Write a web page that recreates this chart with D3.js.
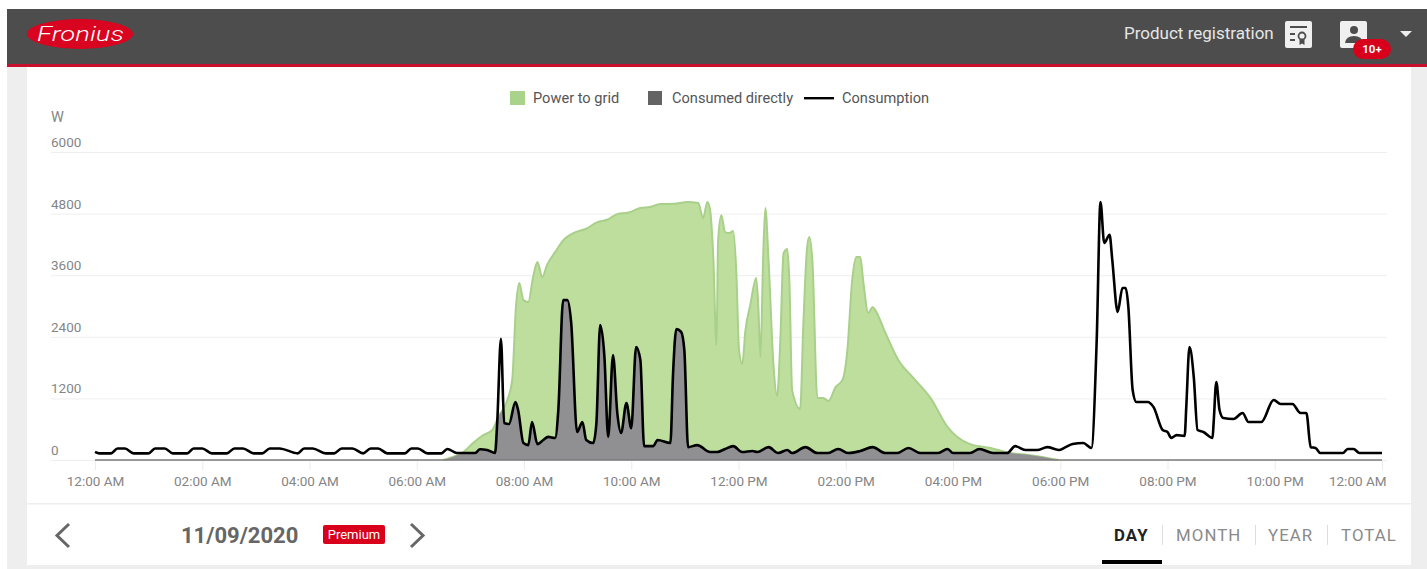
<!DOCTYPE html>
<html>
<head>
<meta charset="utf-8">
<title>Fronius day chart</title>
<script src="https://cdn.jsdelivr.net/npm/d3@7"></script>
<style>
  html, body { margin: 0; padding: 0; background: #fff; overflow: hidden; }
  svg { display: block; font-family: Roboto, sans-serif; }
  .axis path { display: none; }
  .axis text { fill: #858585; font-size: 13.5px; font-family: Roboto, sans-serif; }
  .grid line { stroke: #eeeeee; }
  .xaxis line { stroke: #ececec; }
</style>
</head>
<body>
<script>
// values, hours since midnight and watts
var productionHours = [6.49,6.72,6.87,7.05,7.24,7.41,7.52,7.69,7.78,7.85,7.91,7.99,8.08,8.17,8.25,8.34,8.43,8.58,8.75,8.92,9.15,9.37,9.55,9.74,9.95,10.17,10.35,10.54,10.8,11.04,11.25,11.34,11.42,11.47,11.53,11.59,11.62,11.68,11.75,11.83,11.90,11.96,12.01,12.07,12.13,12.22,12.33,12.37,12.41,12.46,12.50,12.56,12.65,12.72,12.78,12.84,12.91,12.95,13.0,13.15,13.21,13.28,13.32,13.38,13.47,13.58,13.68,13.81,13.94,14.03,14.12,14.20,14.27,14.33,14.42,14.50,14.55,14.74,14.98,15.26,15.58,15.90,16.08,16.32,16.70,17.07,17.44,17.97];
var productionWatts = [0,80,155,330,485,585,840,1170,1560,2980,3450,3115,3080,3565,3855,3565,3800,4050,4300,4420,4500,4635,4680,4790,4820,4910,4930,4985,4990,5025,5005,4715,5025,4870,3955,2240,4285,4770,4440,4420,4460,3645,2140,1870,2530,3020,3545,2980,2005,3955,4910,3895,1890,1245,2340,4030,4110,3450,1365,995,2670,4150,4345,3840,1210,1210,1150,1420,1560,2140,3505,3955,3955,3450,2865,2980,2920,2475,1950,1600,1210,640,450,310,235,135,95,0];

var consumptionHours = [0,0.08,0.3,0.42,0.56,0.72,1.0,1.12,1.3,1.45,1.72,1.84,2.0,2.18,2.46,2.6,2.76,2.96,3.12,3.26,3.44,3.78,3.9,4.06,4.3,4.46,4.6,4.8,5.0,5.14,5.28,5.45,5.78,5.9,6.02,6.2,6.46,6.57,6.75,7.09,7.18,7.31,7.46,7.50,7.57,7.63,7.72,7.84,7.89,7.99,8.08,8.15,8.25,8.36,8.45,8.58,8.64,8.73,8.81,8.88,8.99,9.09,9.16,9.29,9.35,9.42,9.50,9.57,9.66,9.74,9.81,9.91,10.0,10.09,10.17,10.24,10.41,10.49,10.73,10.78,10.84,10.93,10.99,11.06,11.23,11.47,11.60,11.75,11.90,12.07,12.26,12.35,12.56,12.74,12.91,13.0,13.25,13.47,13.66,13.86,14.05,14.27,14.50,14.74,14.96,15.17,15.39,15.71,15.90,16.0,16.32,16.49,16.75,17.01,17.16,17.35,17.57,17.76,17.97,18.10,18.23,18.43,18.58,18.68,18.75,18.82,18.92,18.97,19.07,19.16,19.22,19.27,19.35,19.42,19.63,19.74,19.91,20.0,20.07,20.17,20.32,20.35,20.41,20.49,20.56,20.67,20.84,20.86,20.91,20.97,21.04,21.23,21.40,21.51,21.75,21.98,22.11,22.33,22.48,22.59,22.67,22.76,22.85,23.27,23.36,23.47,23.58,24];
var consumptionWatts = [160,130,130,225,225,130,130,225,225,130,130,225,225,130,130,225,225,130,130,225,225,130,225,225,130,130,225,225,130,225,225,130,130,225,225,130,130,214,136,136,208,195,136,720,2360,720,700,1130,975,330,290,740,310,390,450,430,975,3115,3115,2670,545,740,390,330,720,2630,2005,450,2045,915,525,1110,620,2200,1950,270,270,390,330,1695,2550,2495,2140,250,290,155,155,215,270,155,175,155,250,135,195,135,250,135,135,215,135,175,250,135,135,235,135,135,215,135,135,215,135,135,270,195,195,250,195,250,310,330,235,2340,5025,4230,4385,3900,2885,3350,3350,2980,1365,1130,1130,1030,585,545,430,485,470,1030,2200,1615,585,545,430,720,1520,975,820,800,915,740,740,1170,1090,1090,915,915,250,235,135,135,215,215,135,135];

var yTicks = [0,1200,2400,3600,4800,6000];
var xTicks = [0,2,4,6,8,10,12,14,16,18,20,22,24];
var xTickLabels = ["12:00 AM","02:00 AM","04:00 AM","06:00 AM","08:00 AM","10:00 AM","12:00 PM","02:00 PM","04:00 PM","06:00 PM","08:00 PM","10:00 PM","12:00 AM"];
var legendNames = ["Power to grid","Consumed directly","Consumption"];
var tabNames = ["DAY","MONTH","YEAR","TOTAL"];

var production = productionHours.map((h, i) => ({h: h, w: productionWatts[i]}));
var consumption = consumptionHours.map((h, i) => ({h: h, w: consumptionWatts[i]}));

var svg = d3.select("body").append("svg").attr("width", 1427).attr("height", 569);

function rect(x, y, w, h, fill, r) {
  return svg.append("rect").attr("x", x).attr("y", y).attr("width", w).attr("height", h)
    .attr("fill", fill).attr("rx", r || 0);
}
function label(x, y, str, size, fill, weight) {
  return svg.append("text").attr("x", x).attr("y", y).text(str)
    .attr("font-size", size).attr("fill", fill).attr("font-weight", weight || 400);
}

//
// page background and header
rect(7, 9, 1420, 560, "#eeeeee");
rect(27, 67, 1384, 498, "#ffffff");
rect(27, 503, 1384, 1.5, "#eeeeee");
rect(7, 9, 1420, 55, "#4d4d4d");
rect(7, 64, 1420, 3, "#c8102e");

svg.append("ellipse").attr("cx", 80).attr("cy", 34).attr("rx", 53).attr("ry", 15).attr("fill", "#d9041f");
label(37, 41, "Fronius", 20, "#ffffff", 300).attr("font-style", "italic")
  .attr("textLength", 87).attr("lengthAdjust", "spacingAndGlyphs");

label(1124, 39, "Product registration", 17, "#e6e6e6");
rect(1285, 21, 27, 27, "#f0f0f0", 2);
rect(1290, 26, 17, 2, "#4d4d4d");
rect(1290, 33, 5, 2, "#4d4d4d");
rect(1290, 39, 5, 2, "#4d4d4d");
svg.append("circle").attr("cx", 1302).attr("cy", 36).attr("r", 3.5)
  .attr("fill", "none").attr("stroke", "#4d4d4d").attr("stroke-width", 1.8);
svg.append("path").attr("d", "M1299.5 39 v6 l2.5 -1.5 l2.5 1.5 v-6 z").attr("fill", "#4d4d4d");

rect(1340, 21, 27, 27, "#f0f0f0", 2);
svg.append("circle").attr("cx", 1354).attr("cy", 30).attr("r", 4).attr("fill", "#4d4d4d");
svg.append("path").attr("d", "M1345 43 q1 -7 9 -7 q8 0 9 7 z").attr("fill", "#4d4d4d");
rect(1353, 39, 38, 20, "#d9001b", 10);
label(1372, 53, "10+", 11.5, "#ffffff", 700).attr("text-anchor", "middle");
svg.append("path").attr("d", "M1400 31 h12 l-6 6 z").attr("fill", "#eeeeee");

//
// scales
var x = d3.scaleLinear().domain([0, 24]).range([95, 1382]);
var y = d3.scaleLinear().domain([0, 6000]).range([460, 152]);

//
// axes
var gridAxis = d3.axisRight(y).tickValues(yTicks).tickSize(1336).tickFormat(d3.format("d"));
svg.append("g").attr("class", "axis grid").attr("transform", "translate(51,0)").call(gridAxis)
  .selectAll("text").attr("x", 0).attr("dy", -5.5).attr("text-anchor", "start");
label(51, 122, "W", 14.5, "#858585");

var xAxis = d3.axisBottom(x).tickValues(xTicks).tickSize(10).tickPadding(6)
  .tickFormat((d, i) => xTickLabels[i]);
var xg = svg.append("g").attr("class", "axis xaxis").attr("transform", "translate(0,460)").call(xAxis);
xg.selectAll("text").filter((d, i) => i === xTicks.length - 1).attr("text-anchor", "end").attr("dx", 4);

//
// marks
var curve = d3.curveMonotoneX;
var prodArea = d3.area().x(d => x(d.h)).y0(y(0)).y1(d => y(d.w)).curve(curve);
var prodLine = d3.line().x(d => x(d.h)).y(d => y(d.w)).curve(curve);
var consArea = d3.area().x(d => x(d.h)).y0(y(0)).y1(d => y(d.w)).curve(curve);

svg.append("clipPath").attr("id", "under-production").append("path").attr("d", prodArea(production));

svg.append("path").attr("d", prodArea(production)).attr("fill", "#b5da91").attr("fill-opacity", 0.88);
svg.append("path").attr("d", prodLine(production)).attr("fill", "none").attr("stroke", "#a9d08a").attr("stroke-width", 2);

// consumed directly is whatever part of consumption sits under production
svg.append("path").attr("d", consArea(consumption)).attr("fill", "#909092").attr("clip-path", "url(#under-production)");

svg.append("line").attr("x1", x(0)).attr("x2", x(24)).attr("y1", y(0)).attr("y2", y(0))
  .attr("stroke", "#7a7a7a").attr("stroke-width", 1.5);
svg.append("path").attr("d", prodLine(consumption)).attr("fill", "none")
  .attr("stroke", "#000000").attr("stroke-width", 2.6).attr("stroke-linejoin", "round");

//
// legend
rect(510, 91, 15, 14, "#a9d38b");
label(533, 103, legendNames[0], 14.6, "#555555");
rect(648, 91, 14, 14, "#636363");
label(672, 103, legendNames[1], 14.6, "#555555");
rect(804, 97, 30, 2.4, "#000000");
label(842, 103, legendNames[2], 14.6, "#555555");

//
// footer
var chevron = d3.line();
svg.append("path").attr("d", chevron([[69, 524], [57, 535.5], [69, 547]]))
  .attr("fill", "none").attr("stroke", "#666666").attr("stroke-width", 3);
svg.append("path").attr("d", chevron([[411, 524], [423, 535.5], [411, 547]]))
  .attr("fill", "none").attr("stroke", "#666666").attr("stroke-width", 3);
label(181, 543, "11/09/2020", 22, "#666666", 700);
rect(323, 525, 62, 19, "#d9001b", 2);
label(354, 539, "Premium", 13, "#ffffff").attr("text-anchor", "middle");

var tabX = [1114, 1176, 1268, 1341];
tabNames.forEach((name, i) => {
  label(tabX[i], 541, name, 16.8, i === 0 ? "#222222" : "#8a8a8a", i === 0 ? 700 : 400)
    .attr("letter-spacing", 1.1);
});
[1162, 1255, 1327].forEach(sx => rect(sx, 525, 1, 20, "#dddddd"));
rect(1102, 560, 60, 4, "#000000");
</script>
</body>
</html>
